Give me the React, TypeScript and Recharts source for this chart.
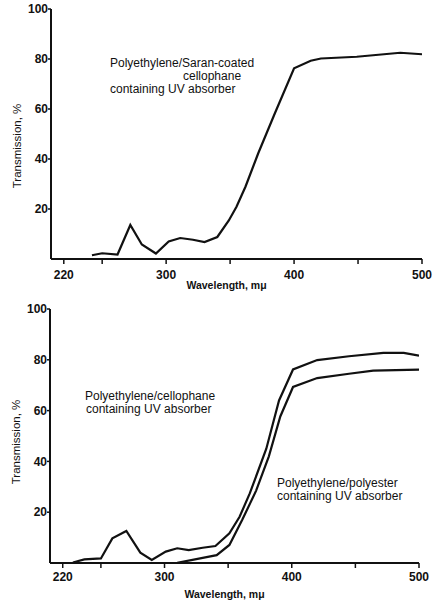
import { LineChart, Line, XAxis, YAxis } from "recharts";

const xTicks = [220, 250, 300, 350, 400, 450, 500];
const xLabeledTicks = [220, 300, 400, 500];
const yTicks = [20, 40, 60, 80, 100];

// top panel: polyethylene/Saran-coated cellophane
const saranWavelength = [242, 250, 262, 272, 281, 292, 302, 311, 321, 330, 340, 349, 355, 362, 372, 385, 400, 413, 421, 449, 483, 500];
const saranTransmission = [1.5, 2.3, 1.8, 13.6, 5.8, 2.2, 7, 8.4, 7.7, 6.8, 8.8, 15.4, 20.9, 28.9, 42.3, 58.3, 76.3, 79.3, 80.2, 80.9, 82.5, 81.9];

// bottom panel: polyethylene/cellophane
const cellWavelength = [228, 237, 250, 259, 270, 281, 290, 301, 310, 319, 330, 340, 351, 359, 367, 380, 390, 401, 420, 445, 472, 488, 500];
const cellTransmission = [0.2, 1.4, 1.8, 9.7, 12.6, 4.1, 1.2, 4.5, 5.8, 5.1, 6, 6.7, 11.7, 18.2, 27.4, 45, 64, 76.2, 79.9, 81.4, 82.7, 82.7, 81.6];

// bottom panel: polyethylene/polyester
const polyWavelength = [310, 322, 332, 341, 351, 361, 372, 382, 391, 401, 420, 445, 464, 500];
const polyTransmission = [0.1, 1.2, 2.2, 3.1, 7.1, 16.9, 28.5, 42, 57.7, 69.3, 72.8, 74.5, 75.7, 76.1];

const zip = (w: number[], t: number[]) => w.map((x, i) => ({ w: x, t: t[i] }));

const saranData = zip(saranWavelength, saranTransmission);
const cellData = zip(cellWavelength, cellTransmission);
const polyData = zip(polyWavelength, polyTransmission);

const ink = "#111";
const font = "'Liberation Sans', Arial, sans-serif";
const tickStyle = { fill: ink, fontSize: 12, fontWeight: 700, fontFamily: font };

const note = (left: number, top: number, text: string) => (
  <div
    style={{
      position: "absolute",
      left,
      top,
      fontFamily: font,
      fontSize: 12,
      lineHeight: "12px",
      color: ink,
      whiteSpace: "nowrap",
    }}
  >
    {text}
  </div>
);

function Panel(props: {
  height: number;
  margin: { top: number; right: number; bottom: number; left: number };
  xTickGap: number;
  xTitleOffset: number;
  yTitleShift: number;
  children: any;
}) {
  const { height, margin, xTickGap, xTitleOffset, yTitleShift } = props;
  return (
    <LineChart width={442} height={height} margin={margin}>
      <XAxis
        dataKey="w"
        type="number"
        domain={[210, 500]}
        ticks={xTicks}
        tickFormatter={(v: number) => (xLabeledTicks.includes(v) ? String(v) : "")}
        interval={0}
        height={30}
        tick={tickStyle}
        tickSize={5}
        tickMargin={xTickGap}
        axisLine={{ stroke: ink, strokeWidth: 2 }}
        tickLine={{ stroke: ink, strokeWidth: 1.5 }}
        allowDataOverflow
        label={{
          value: "Wavelength, mμ",
          position: "insideBottom",
          offset: xTitleOffset,
          dx: -10,
          style: { fill: ink, fontSize: 10.5, fontFamily: font, fontWeight: 700 },
        }}
      />
      <YAxis
        type="number"
        domain={[0, 100]}
        ticks={yTicks}
        interval={0}
        width={40}
        tick={tickStyle}
        tickSize={3}
        tickMargin={0}
        axisLine={{ stroke: ink, strokeWidth: 2 }}
        tickLine={{ stroke: ink, strokeWidth: 1.5 }}
        label={{
          value: "Transmission, %",
          angle: -90,
          position: "insideLeft",
          offset: 6,
          dy: yTitleShift,
          style: { fill: ink, fontSize: 11.5, fontFamily: font, textAnchor: "middle" },
        }}
      />
      {props.children}
    </LineChart>
  );
}

export default function App() {
  return (
    <div
      style={{
        position: "absolute",
        left: 0,
        top: 0,
        width: 442,
        height: 606,
        background: "#fff",
      }}
    >
      <div style={{ position: "absolute", left: 0, top: 0 }}>
        <Panel
          height={300}
          margin={{ top: 9, right: 20, bottom: 11, left: 11 }}
          xTickGap={6}
          xTitleOffset={0}
          yTitleShift={12}
        >
          <Line
            data={saranData}
            dataKey="t"
            type="linear"
            stroke={ink}
            strokeWidth={2.2}
            dot={false}
            isAnimationActive={false}
          />
        </Panel>
      </div>
      <div style={{ position: "absolute", left: 0, top: 300 }}>
        <Panel
          height={306}
          margin={{ top: 9, right: 23, bottom: 13, left: 10 }}
          xTickGap={4}
          xTitleOffset={-5}
          yTitleShift={6}
        >
          <Line
            data={cellData}
            dataKey="t"
            type="linear"
            stroke={ink}
            strokeWidth={2.2}
            dot={false}
            isAnimationActive={false}
          />
          <Line
            data={polyData}
            dataKey="t"
            type="linear"
            stroke={ink}
            strokeWidth={2.2}
            dot={false}
            isAnimationActive={false}
          />
        </Panel>
      </div>
      {note(110, 57, "Polyethylene/Saran-coated")}
      {note(183, 70, "cellophane")}
      {note(110, 83, "containing UV absorber")}
      {note(85, 390, "Polyethylene/cellophane")}
      {note(86, 403, "containing UV absorber")}
      {note(277, 477, "Polyethylene/polyester")}
      {note(277, 490, "containing UV absorber")}
    </div>
  );
}
